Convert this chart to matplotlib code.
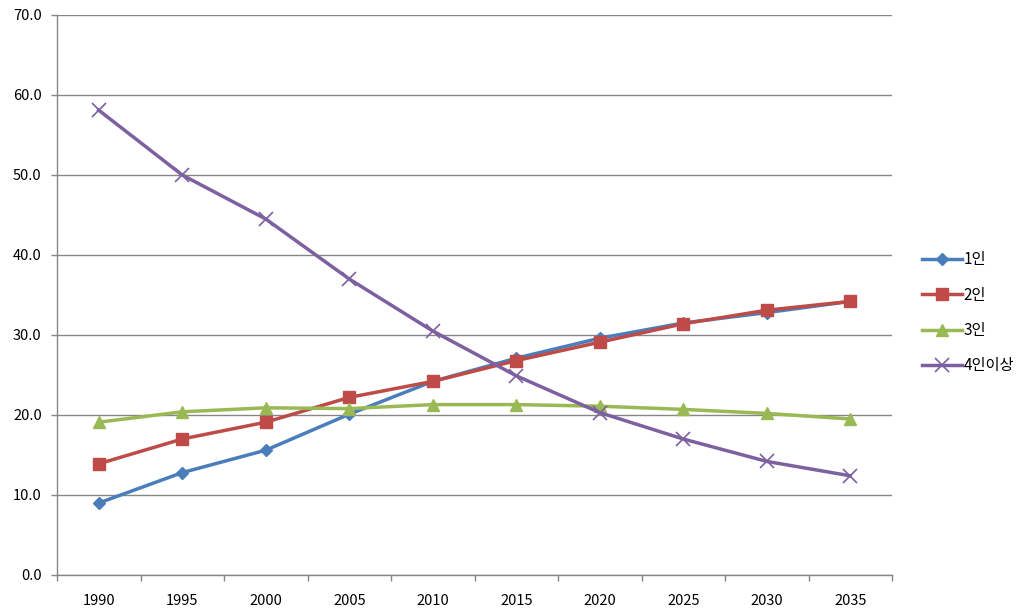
import matplotlib
matplotlib.use("Agg")
import matplotlib.pyplot as plt
from matplotlib.ticker import FixedLocator

plt.rcParams['font.family'] = ['Noto Sans CJK KR', 'DejaVu Sans']

years = ['1990', '1995', '2000', '2005', '2010', '2015', '2020', '2025', '2030', '2035']
one = [9.0, 12.8, 15.6, 20.1, 24.2, 27.1, 29.6, 31.5, 32.8, 34.2]
two = [13.9, 17.0, 19.1, 22.2, 24.2, 26.8, 29.1, 31.4, 33.1, 34.2]
three = [19.1, 20.4, 20.9, 20.8, 21.3, 21.3, 21.1, 20.7, 20.2, 19.5]
four = [58.1, 50.0, 44.5, 37.0, 30.5, 24.9, 20.3, 17.0, 14.2, 12.4]
labels = ['1인', '2인', '3인', '4인이상']

fig = plt.figure(figsize=(10.2, 6.14), dpi=100)
ax = fig.add_axes([57/1020, 39/614, (892-57)/1020, (575-15)/614])

x = list(range(len(years)))
ax.plot(x, one, color='#4a7ebb', lw=2.5, marker='D', ms=6.5, label=labels[0])
ax.plot(x, two, color='#be4b48', lw=2.5, marker='s', ms=8.5, label=labels[1])
ax.plot(x, three, color='#98b954', lw=2.5, marker='^', ms=9, label=labels[2])
ax.plot(x, four, color='#7d60a0', lw=2.5, marker='x', ms=10, mew=1.2, label=labels[3])

ax.set_xlim(-0.5, len(years) - 0.5)
ax.set_ylim(0, 70)
ax.set_yticks([0, 10, 20, 30, 40, 50, 60, 70])
ax.set_yticklabels([f'{v:.1f}' for v in [0, 10, 20, 30, 40, 50, 60, 70]], fontsize=10.5)
ax.set_xticks(x)
ax.set_xticklabels(years, fontsize=10.5)
ax.xaxis.set_minor_locator(FixedLocator([i - 0.5 for i in range(len(years) + 1)]))
ax.tick_params(axis='x', which='major', length=0, pad=14)
ax.tick_params(axis='x', which='minor', length=4, color='#868686', width=1)
ax.tick_params(axis='y', length=4, color='#868686', width=1, pad=7)
ax.yaxis.grid(True, color='#868686', lw=1)
ax.set_axisbelow(True)
for s in ['top', 'right']:
    ax.spines[s].set_visible(False)
for s in ['left', 'bottom']:
    ax.spines[s].set_color('#868686')
    ax.spines[s].set_linewidth(1)

ax.legend(loc='center left', bbox_to_anchor=(1.02, 0.468), frameon=False, fontsize=11,
          handlelength=2.6, handletextpad=0.1, labelspacing=1.2)

fig.savefig('out.png', dpi=100)
